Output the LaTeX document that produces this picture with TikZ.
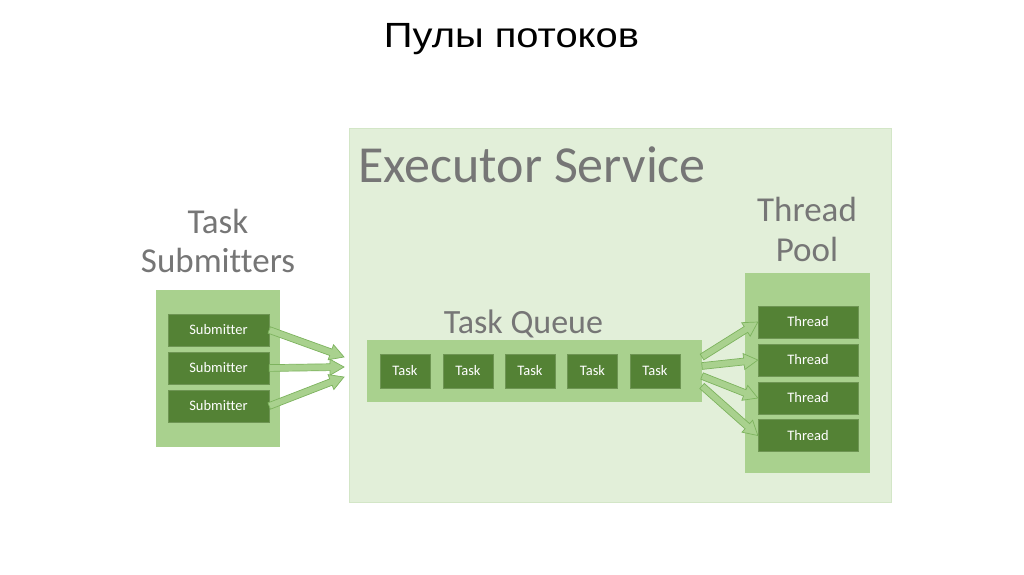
\documentclass[tikz,border=0pt]{standalone}
\usepackage{fontspec}
\setmainfont{Carlito}[Ligatures=NoCommon]
\newfontfamily\titlefont{Liberation Sans}
\usetikzlibrary{calc}
\definecolor{lightg}{HTML}{A9D18E}
\definecolor{darkg}{HTML}{548235}
\definecolor{paleg}{HTML}{E2EFD9}
\definecolor{paleline}{HTML}{D3E6C7}
\definecolor{grayt}{HTML}{767676}
\definecolor{arrowline}{HTML}{7DB35E}
\tikzset{
  outerbox/.style={fill=lightg, draw=none, inner sep=0pt},
  innerbox/.style={fill=darkg, draw=darkg!85!white, text=white,
    font=\fontsize{14.5}{16}\selectfont, minimum height=32pt, inner sep=0pt},
  subbox/.style={innerbox, minimum width=101pt},
  taskbox/.style={innerbox, minimum width=50pt, minimum height=34pt},
  threadbox/.style={innerbox, minimum width=100pt},
  graylabel/.style={text=grayt, inner sep=0pt},
  arrowstyle/.style={fill=lightg, draw=arrowline, line width=0.7pt, line join=miter},
}
\newcommand\blockarrow[2]{%
  \coordinate (ba-h) at ($(#2)!14pt!(#1)$);
  \filldraw[arrowstyle] ($(#1)!3.4pt!90:(#2)$) -- ($(ba-h)!3.4pt!90:(#2)$) --
    ($(ba-h)!8pt!90:(#2)$) -- (#2) -- ($(ba-h)!8pt!-90:(#2)$) --
    ($(ba-h)!3.4pt!-90:(#2)$) -- ($(#1)!3.4pt!-90:(#2)$) -- cycle;}
\begin{document}
\begin{tikzpicture}[x=1pt,y=-1pt]
\fill[white] (0,0) rectangle (1024,574);
\useasboundingbox (0,0) rectangle (1024,574);

% title
\node[anchor=base, inner sep=0pt, font=\titlefont\fontsize{35}{40}\selectfont] (title) at (511.5,47) {\scalebox{1.14}[1]{Пулы потоков}};

% executor service
\node[fill=paleg, draw=paleline, line width=0.8pt, minimum width=542pt, minimum height=374pt, inner sep=0pt] (exec) at (620,315) {};
\node[graylabel, anchor=base west, font=\fontsize{52}{60}\selectfont] (execlbl) at (358,182) {Executor Service};

% task submitters
\node[graylabel, align=center, font=\fontsize{35}{39}\selectfont] (sublbl) at (218,241) {Task\\Submitters};
\node[outerbox, minimum width=124pt, minimum height=157pt] (subs) at (218,368.5) {};
\node[subbox] (s1) at (218.5,330) {Submitter};
\node[subbox] (s2) at (218.5,368) {Submitter};
\node[subbox] (s3) at (218.5,406) {Submitter};

% task queue
\node[graylabel, anchor=base, font=\fontsize{34}{39}\selectfont] (qlbl) at (523.5,333) {Task Queue};
\node[outerbox, minimum width=335pt, minimum height=62pt] (queue) at (534.5,371) {};
\node[taskbox] (t1) at (405,371) {Task};
\node[taskbox] (t2) at (468,371) {Task};
\node[taskbox] (t3) at (530,371) {Task};
\node[taskbox] (t4) at (592.5,371) {Task};
\node[taskbox] (t5) at (655,371) {Task};

% thread pool
\node[graylabel, align=center, font=\fontsize{35}{40}\selectfont] (poollbl) at (807,229) {Thread\\Pool};
\node[outerbox, minimum width=125pt, minimum height=200pt] (pool) at (807.5,373) {};
\node[threadbox] (th1) at (808,322) {Thread};
\node[threadbox] (th2) at (808,360) {Thread};
\node[threadbox] (th3) at (808,398) {Thread};
\node[threadbox] (th4) at (808,435.5) {Thread};

% arrows submitters -> executor
\coordinate (in1) at (344,357);
\coordinate (in2) at (344,367);
\coordinate (in3) at (344,377);
\blockarrow{s1.east}{in1}
\blockarrow{s2.east}{in2}
\blockarrow{s3.east}{in3}

% arrows queue -> threads
\coordinate (q1) at (702,357);
\coordinate (q2) at (702,366);
\coordinate (q3) at (702,376);
\coordinate (q4) at (702,386);
\blockarrow{q1}{th1.west}
\blockarrow{q2}{th2.west}
\blockarrow{q3}{th3.west}
\blockarrow{q4}{th4.west}
\end{tikzpicture}
\end{document}
